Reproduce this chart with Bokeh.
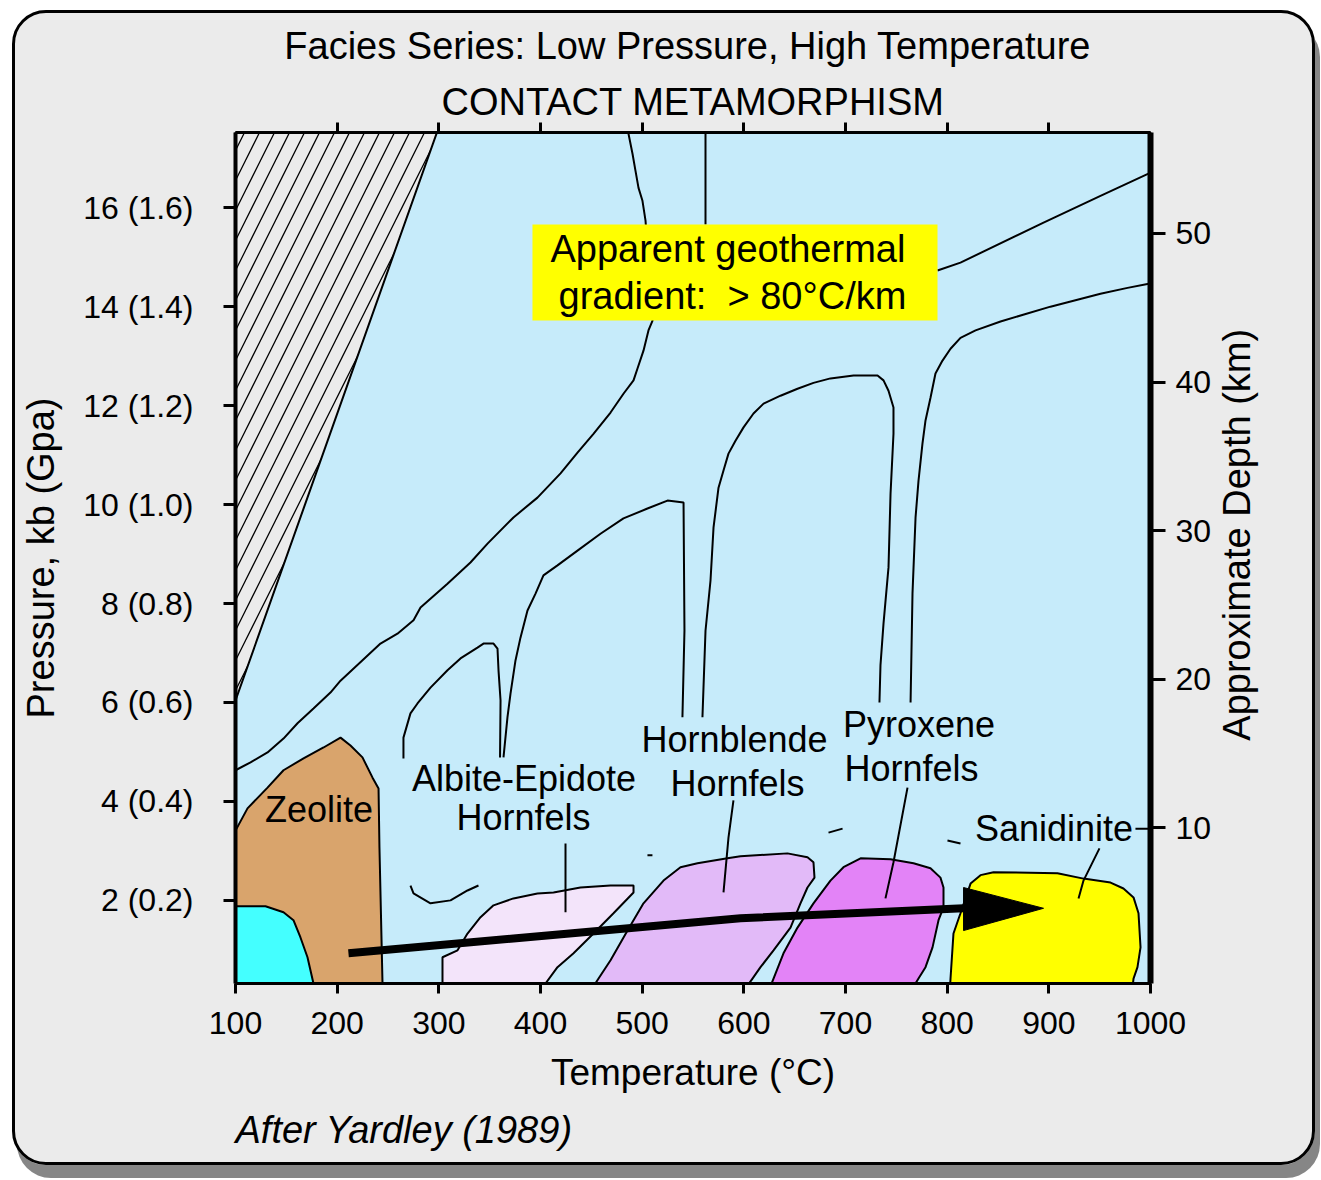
import math
from bokeh.plotting import figure
from bokeh.layouts import row
from bokeh.models import Range1d, LinearAxis, FixedTicker, ColumnDataSource, Title
from bokeh.embed import file_html
from bokeh.resources import INLINE
from bokeh.core.properties import value

FONT = "Liberation Sans"

# ---------------- axes / ticks ----------------
temp_ticks = [100, 200, 300, 400, 500, 600, 700, 800, 900, 1000]
top_ticks = [200, 300, 400, 500, 600, 700, 800, 900]
pressure_ticks = [2, 4, 6, 8, 10, 12, 14, 16]
pressure_labels = ["2 (0.2)", "4 (0.4)", "6 (0.6)", "8 (0.8)", "10 (1.0)", "12 (1.2)", "14 (1.4)", "16 (1.6)"]
depth_ticks = [10, 20, 30, 40, 50]

# ---------------- facies fields (T in degC, P in kb) ----------------
hatch_T = [100.0, 100.0, 299.5]
hatch_P = [6.04, 17.6, 17.6]

zeolite_T = [100.0, 100.0, 111.8, 131.5, 147.2, 166.9, 186.6, 203.3, 213.1, 224.9, 234.8, 240.7, 241.6, 244.6, 244.6]
zeolite_P = [0.0, 3.41, 3.86, 4.28, 4.63, 4.87, 5.09, 5.29, 5.13, 4.89, 4.48, 4.26, 3.07, 0.32, 0.0]

cyan_T = [100.0, 100.0, 129.5, 147.2, 157.0, 163.9, 170.8, 176.7, 178.0]
cyan_P = [0.0, 1.88, 1.88, 1.76, 1.60, 1.25, 0.85, 0.32, 0.0]

albite_T = [303.6, 303.6, 318.4, 328.2, 341.0, 353.8, 373.4, 397.0, 412.8, 439.3, 468.9, 491.5, 491.5, 471.8, 452.1, 432.5, 416.7, 404.9, 398.0]
albite_P = [0.0, 0.85, 0.99, 1.33, 1.66, 1.90, 2.04, 2.14, 2.16, 2.26, 2.30, 2.30, 2.16, 1.74, 1.33, 0.93, 0.65, 0.32, 0.0]

hornblende_T = [443.7, 457.1, 468.9, 485.6, 501.3, 521.0, 537.7, 554.4, 583.9, 596.7, 642.9, 662.6, 668.5, 669.5, 662.6, 655.7, 645.9, 629.2, 616.4, 608.5, 594.2]
hornblende_P = [0.0, 0.42, 0.79, 1.39, 1.94, 2.40, 2.67, 2.75, 2.85, 2.89, 2.95, 2.87, 2.77, 2.46, 2.26, 1.94, 1.45, 0.99, 0.65, 0.42, 0.0]

pyroxene_T = [621.1, 629.2, 639.0, 652.8, 668.5, 685.2, 698.0, 714.8, 744.3, 766.9, 783.6, 793.4, 796.4, 796.4, 791.5, 785.6, 778.7, 771.8, 759.2]
pyroxene_P = [0.0, 0.42, 0.93, 1.45, 1.94, 2.40, 2.67, 2.85, 2.83, 2.75, 2.65, 2.46, 2.26, 1.86, 1.60, 1.05, 0.65, 0.42, 0.0]

sanidinite_T = [802.0, 803.3, 806.2, 813.1, 823.0, 832.8, 845.6, 908.5, 934.1, 960.7, 973.4, 983.3, 988.2, 990.2, 987.2, 983.3, 981.0]
sanidinite_P = [0.0, 0.42, 1.33, 1.74, 2.34, 2.51, 2.57, 2.55, 2.44, 2.36, 2.24, 2.06, 1.74, 1.05, 0.65, 0.42, 0.0]

# ---------------- boundary curves ----------------
curve1_T = [100.0, 114.8, 131.5, 147.2, 161.0, 176.7, 193.4, 203.3, 242.6, 259.3, 275.1, 282.0, 308.5, 331.1, 347.9, 373.4, 397.0, 419.7, 436.4, 452.1, 468.9, 481.6, 491.5, 495.4, 501.3, 506.2, 510.2, 503.3, 500.3, 496.4, 493.4, 490.5, 486.6, 485.5]
curve1_P = [4.63, 4.79, 4.99, 5.27, 5.58, 5.88, 6.20, 6.44, 7.19, 7.39, 7.66, 7.92, 8.40, 8.83, 9.21, 9.74, 10.14, 10.63, 11.05, 11.43, 11.86, 12.24, 12.51, 12.75, 13.11, 13.52, 13.72, 15.74, 16.14, 16.40, 16.75, 17.09, 17.49, 17.6]

curve2_T = [562.3, 562.3]
curve2_P = [15.66, 17.6]

curve3_T = [790.5, 813.1, 894.8, 950.8, 998.0, 1003.0]
curve3_P = [14.73, 14.89, 15.70, 16.24, 16.69, 16.73]

curve4_T = [764.0, 765.9, 768.9, 771.8, 775.7, 778.7, 783.6, 788.5, 795.4, 803.3, 813.1, 827.9, 852.5, 901.6, 950.8, 977.4, 997.0, 1003.0]
curve4_P = [6.00, 8.20, 9.74, 10.48, 11.23, 11.70, 12.16, 12.65, 12.91, 13.15, 13.37, 13.52, 13.70, 14.00, 14.26, 14.38, 14.46, 14.48]

curve5_T = [559.3, 562.3, 567.2, 570.2, 575.1, 580.0, 584.9, 591.8, 599.7, 609.5, 619.4, 636.1, 652.8, 668.5, 685.2, 707.9, 731.5, 737.4, 742.3, 747.2, 747.2, 744.3, 742.3, 737.4, 734.4, 733.4]
curve5_P = [5.70, 7.45, 8.46, 9.54, 10.34, 10.69, 11.03, 11.29, 11.56, 11.84, 12.04, 12.20, 12.34, 12.46, 12.55, 12.61, 12.61, 12.51, 12.30, 11.96, 11.43, 10.22, 8.73, 7.60, 6.75, 6.00]

curve6_T = [363.6, 367.5, 370.5, 375.4, 380.3, 387.2, 395.1, 402.9, 416.7, 436.4, 459.0, 481.6, 505.2, 524.9, 540.7, 541.6, 539.6]
curve6_P = [4.89, 5.70, 6.18, 6.85, 7.31, 7.86, 8.20, 8.57, 8.77, 9.07, 9.41, 9.72, 9.92, 10.08, 10.04, 7.45, 5.70]

curve7_T = [265.2, 265.2, 272.1, 279.0, 291.8, 308.5, 321.3, 338.0, 343.9, 353.8, 357.7, 358.7, 360.7, 360.2]
curve7_P = [4.87, 5.29, 5.78, 5.98, 6.30, 6.65, 6.89, 7.11, 7.19, 7.19, 7.09, 6.65, 6.04, 4.89]

curve8_T = [272.1, 275.1, 291.8, 311.5, 328.2, 339.0]
curve8_P = [2.30, 2.14, 1.94, 2.00, 2.20, 2.30]

# short marks and label leaders
leader_T = [[424.6, 424.6], [589.8, 584.9, 580.0], [761.0, 747.2, 739.3], [949.8, 934.1, 929.2], [985.2, 1003.0],
            [683.3, 697.1], [800.3, 813.1], [505.2, 510.1]]
leader_P = [[3.15, 1.76], [4.02, 3.27, 2.16], [4.28, 2.77, 2.04], [3.05, 2.40, 2.04], [3.45, 3.45],
            [3.37, 3.45], [3.21, 3.15], [2.91, 2.91]]

# contact metamorphism P-T path (arrow)
arrow_T = [211.1, 373.4, 596.7, 816.1]
arrow_P = [0.93, 1.23, 1.64, 1.84]
head_T = [816.1, 816.1, 894.8]
head_P = [2.26, 1.39, 1.84]

# facies names
facies_names = ["Zeolite", "Albite-Epidote", "Hornfels", "Hornblende", "Hornfels", "Pyroxene", "Hornfels", "Sanidinite"]
facies_T = [182.1, 383.8, 383.3, 590.8, 593.8, 772.3, 764.9, 905.1]
facies_P = [3.83, 4.47, 3.67, 5.25, 4.37, 5.56, 4.66, 3.46]

# geothermal gradient box
box_left, box_right, box_bottom, box_top = 392.1, 790.5, 13.72, 15.66
box_lines = ["Apparent geothermal", "gradient:\u00a0 > 80\u00b0C/km"]
box_T = [409.8, 417.7]
box_P = [15.17, 14.22]

title_line1 = "Facies Series: Low  Pressure, High Temperature"
title_line2 = "CONTACT METAMORPHISM"
credit_text = "After Yardley (1989)"
depth_label = "Approximate Depth (km)"

# ---------------- main figure ----------------
p = figure(frame_width=915, frame_height=851,
           x_range=Range1d(100, 1000), y_range=Range1d(0.32, 17.52),
           output_backend="svg", toolbar_location=None,
           min_border_left=223, min_border_right=62, min_border_top=122, min_border_bottom=182)
p.background_fill_color = "#C6EBFA"
p.border_fill_color = None
p.outline_line_color = "black"
p.outline_line_width = 2
p.grid.visible = False

p.extra_y_ranges = {"depth": Range1d(-0.5, 56.8)}

def style_axis(ax, size="32px"):
    ax.major_label_text_font = FONT
    ax.major_label_text_font_size = size
    ax.major_label_text_color = "black"
    ax.axis_label_text_font = FONT
    ax.axis_label_text_font_style = "normal"
    ax.axis_label_text_color = "black"
    ax.minor_tick_line_color = None
    ax.major_tick_in = 0
    ax.major_tick_line_color = "black"
    ax.major_tick_line_width = 3
    ax.axis_line_color = "black"

xa = p.xaxis[0]
style_axis(xa)
xa.ticker = FixedTicker(ticks=temp_ticks)
xa.axis_label = "Temperature (\u00b0C)"
xa.axis_label_text_font_size = "37px"
xa.major_tick_out = 10
xa.major_label_standoff = 18
xa.axis_label_standoff = 15
xa.axis_line_width = 3

ya = p.yaxis[0]
style_axis(ya)
ya.ticker = FixedTicker(ticks=pressure_ticks)
ya.major_label_overrides = {t: l for t, l in zip(pressure_ticks, pressure_labels)}
ya.axis_label = "Pressure, kb (Gpa)"
ya.axis_label_text_font_size = "38px"
ya.major_tick_out = 12
ya.major_label_standoff = 30
ya.axis_label_standoff = 18
ya.axis_line_width = 4

top = LinearAxis(ticker=FixedTicker(ticks=top_ticks))
style_axis(top)
top.major_label_overrides = {t: "" for t in top_ticks}
top.major_tick_out = 10
top.axis_line_width = 3
p.add_layout(top, "above")

right = LinearAxis(y_range_name="depth", ticker=FixedTicker(ticks=depth_ticks))
style_axis(right)
right.major_tick_out = 15
right.major_label_standoff = 10
right.axis_line_width = 6
p.add_layout(right, "right")

# titles (stacked outward from the frame) and credit
p.add_layout(Title(text=title_line2, align="center", text_font=FONT, text_font_size="38px",
                   text_font_style="normal", text_color="black", standoff=0), "above")
p.add_layout(Title(text=title_line1, align="center", text_font=FONT, text_font_size="38px",
                   text_font_style="normal", text_color="black", standoff=24), "above")
p.add_layout(Title(text=credit_text, align="left", text_font=FONT, text_font_size="38px",
                   text_font_style="italic", text_color="black", standoff=22), "below")

# fields
p.patch(hatch_T, hatch_P, fill_color="#EBEBEB", hatch_pattern="/", hatch_color="black",
        hatch_weight=1.3, hatch_scale=30, line_color="black", line_width=2)
p.patch(zeolite_T, zeolite_P, fill_color="#D9A46C", line_color="black", line_width=2)
p.patch(cyan_T, cyan_P, fill_color="#44FFFF", line_color="black", line_width=2)
p.patch(albite_T, albite_P, fill_color="#F3E4FA", line_color="black", line_width=2)
p.patch(hornblende_T, hornblende_P, fill_color="#E2BAF8", line_color="black", line_width=2)
p.patch(pyroxene_T, pyroxene_P, fill_color="#E383F7", line_color="black", line_width=2)
p.patch(sanidinite_T, sanidinite_P, fill_color="#FFFF00", line_color="black", line_width=2)

# boundary curves
for cx, cy in [(curve1_T, curve1_P), (curve2_T, curve2_P), (curve3_T, curve3_P), (curve4_T, curve4_P),
               (curve5_T, curve5_P), (curve6_T, curve6_P), (curve7_T, curve7_P), (curve8_T, curve8_P)]:
    p.line(cx, cy, line_color="black", line_width=2)
p.multi_line(leader_T, leader_P, line_color="black", line_width=2)

# arrow
p.line(arrow_T, arrow_P, line_color="black", line_width=8, line_join="round")
p.patch(head_T, head_P, fill_color="black", line_color="black", line_width=1)

# geothermal box
p.quad(left=[box_left], right=[box_right], bottom=[box_bottom], top=[box_top],
       fill_color="#FFFF00", line_color=None)
p.text(x=box_T, y=box_P, text=box_lines, text_font=value(FONT), text_font_size="38px",
       text_color="black", text_align="left", text_baseline="middle")

# facies labels
src = ColumnDataSource(dict(x=facies_T, y=facies_P, t=facies_names))
p.text(x="x", y="y", text="t", source=src, text_font=value(FONT), text_font_size="36px",
       text_color="black", text_align="center", text_baseline="middle")

# ---------------- right-hand strip holding the depth axis title ----------------
side = figure(width=101, height=1155, x_range=Range1d(0, 101), y_range=Range1d(0, 1155),
              output_backend="svg", toolbar_location=None, min_border=0,
              x_axis_location=None, y_axis_location=None)
side.grid.visible = False
side.outline_line_color = None
side.background_fill_color = None
side.border_fill_color = None
side.text(x=[22], y=[609], text=[depth_label], angle=math.pi / 2,
          text_font=value(FONT), text_font_size="38px", text_color="black",
          text_align="center", text_baseline="middle")

layout = row(p, side)
layout.margin = (10, 0, 0, 12)
layout.styles = {"background-color": "#EBEBEB", "border-radius": "34px",
                 "box-shadow": "5px 13px 0px #868686",
                 "outline": "3px solid black", "outline-offset": "-3px"}

open("out.html", "w").write(file_html(layout, INLINE))
